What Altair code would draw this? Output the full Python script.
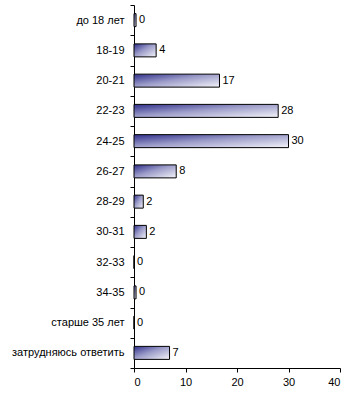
import altair as alt
import pandas as pd

categories = ["до 18 лет", "18-19", "20-21", "22-23", "24-25", "26-27", "28-29",
              "30-31", "32-33", "34-35", "старше 35 лет", "затрудняюсь ответить"]
values = [0.4, 4.3, 16.6, 28.0, 30.0, 8.2, 1.8, 2.4, 0.0, 0.4, 0.0, 6.9]
labels = ["0", "4", "17", "28", "30", "8", "2", "2", "0", "0", "0", "7"]
x_ticks = [0, 10, 20, 30, 40]

df = pd.DataFrame({"cat": categories, "val": values, "lab": labels})

font = "Liberation Sans"

grad = alt.Gradient(
    gradient="linear",
    stops=[alt.GradientStop(color="#2f2f8c", offset=0),
           alt.GradientStop(color="#9a9ac8", offset=0.45),
           alt.GradientStop(color="#f4f4fa", offset=1)],
    x1=0, x2=1, y1=0, y2=1,
)

y_enc = alt.Y("cat:N", sort=categories, title=None,
              scale=alt.Scale(paddingInner=0, paddingOuter=0),
              axis=alt.Axis(tickBand="extent", labelFont=font, labelFontSize=11,
                            labelColor="black", labelPadding=6, tickSize=4,
                            tickColor="black", domainColor="black", labelLimit=200))
x_enc = alt.X("val:Q", title=None,
              scale=alt.Scale(domain=[0, 40], nice=False),
              axis=alt.Axis(values=x_ticks, grid=False, labelFont=font, labelFontSize=11,
                            labelColor="black", tickSize=4, tickColor="black",
                            domainColor="black", labelPadding=4))

bars = alt.Chart(df).mark_bar(fill=grad, stroke="black", strokeWidth=1, size=13).encode(
    x=x_enc, y=y_enc)

text = alt.Chart(df).mark_text(align="left", baseline="middle", dx=3, font=font,
                               fontSize=11, color="black").encode(
    x=alt.X("val:Q"), y=alt.Y("cat:N", sort=categories), text="lab:N")

chart = (bars + text).properties(
    width=206, height=363,
    autosize=alt.AutoSizeParams(type="none"),
    padding={"left": 134, "top": 5, "right": 12, "bottom": 33},
    background="white",
).configure_view(stroke=None).configure_axis(domainWidth=1, tickWidth=1)

chart.save("out.html", embed_options={"renderer": "svg", "actions": False})
